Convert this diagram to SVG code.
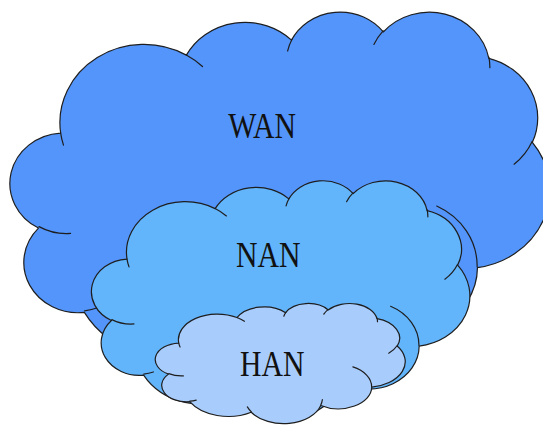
<svg xmlns="http://www.w3.org/2000/svg" xmlns:xlink="http://www.w3.org/1999/xlink" width="543" height="426" viewBox="0 0 543 426">
<style>
.o{stroke:#1e1e1e;stroke-width:1.2;stroke-linejoin:round}
.i{fill:none;stroke:#1e1e1e;stroke-width:1.2;stroke-linecap:round}
.wan{fill:#5395FA}
.nan{fill:#62B4FB}
.han{fill:#A8CCFC}
.t{font-family:"Liberation Serif","Times New Roman",serif;font-size:35px;fill:#111;text-anchor:middle}
</style>
<defs>
<path id="cloud" vector-effect="non-scaling-stroke" d="M3900,14370 A6753,9190 0 0 1 14005,5202 A5333,7267 0 0 1 22456,3432 A4365,5945 0 0 1 29833,2481 A4857,6595 0 0 1 38318,5576 A5333,7273 0 0 1 41818,15460 A6775,9220 0 0 1 37404,30203 A5785,7867 0 0 1 28556,36813 A6752,9215 0 0 1 16481,39264 A7720,10543 0 0 1 5805,35470 A4360,5918 0 0 1 2114,25548 A4345,5945 0 0 1 3900,14370 Z"/>
<path id="inner" vector-effect="non-scaling-stroke" d="M4693,26177 A4345,5945 0 0 1 2160,25380 M6928,34899 A4360,5918 0 0 1 5820,35281 M16478,39090 A6752,9215 0 0 1 15810,37350 M28827,34751 A6752,9215 0 0 1 28560,36660 M34129,22954 A5785,7867 0 0 1 37380,30090 M41798,15354 A5333,7273 0 0 1 40350,18030 M38324,5426 A4857,6595 0 0 1 38400,6690 M29078,3952 A4857,6595 0 0 1 29820,2340 M22141,4720 A4365,5945 0 0 1 22500,3330 M14000,5192 A6753,9190 0 0 1 15300,6540 M4127,15789 A6753,9190 0 0 1 3900,14370"/>
</defs>
<g id="wan">
<g transform="translate(12.15,10.9) scale(0.01244,0.0085)">
<use xlink:href="#cloud" class="o wan"/>
<use xlink:href="#inner" class="i"/>
</g>
<text class="t" transform="translate(262.2,137.7) scale(0.85,1)">WAN</text>
</g>
<g id="nan">
<g transform="translate(93,180) scale(0.00872,0.0055)">
<use xlink:href="#cloud" class="o nan"/>
<use xlink:href="#inner" class="i"/>
</g>
<text class="t" transform="translate(268.3,266.7) scale(0.85,1)">NAN</text>
</g>
<g id="han">
<g transform="translate(156.3,303.1) scale(0.00576,0.00278)">
<use xlink:href="#cloud" class="o han"/>
<use xlink:href="#inner" class="i"/>
</g>
<text class="t" transform="translate(272.2,375.7) scale(0.85,1)">HAN</text>
</g>
</svg>
